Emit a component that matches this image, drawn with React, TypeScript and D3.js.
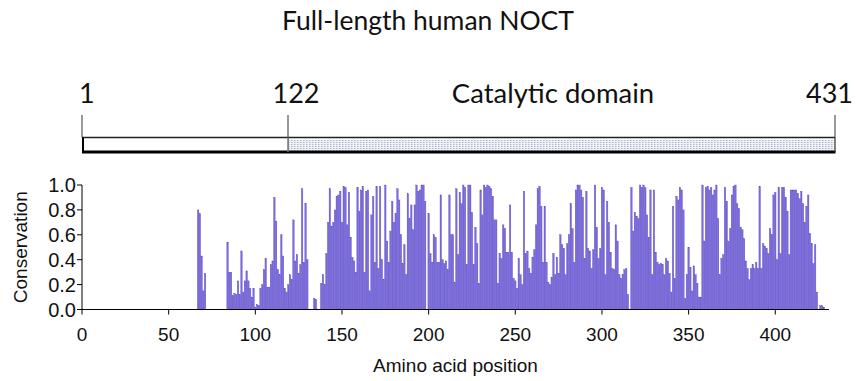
import React from 'react';
import * as d3 from 'd3';

const W = 856;
const H = 381;

const titleText = 'Full-length human NOCT';
const domainMarks = [1, 122, 431];
const domainLabel = 'Catalytic domain';
const xTicks = [0, 50, 100, 150, 200, 250, 300, 350, 400];
const yTicks = [0, 0.2, 0.4, 0.6, 0.8, 1.0];
const xTitle = 'Amino acid position';
const yTitle = 'Conservation';

// conservation score per amino acid position 1..431
const conservation: number[] = [
  0, 0, 0, 0, 0, 0, 0, 0, 0, 0,
  0, 0, 0, 0, 0, 0, 0, 0, 0, 0,
  0, 0, 0, 0, 0, 0, 0, 0, 0, 0,
  0, 0, 0, 0, 0, 0, 0, 0, 0, 0,
  0, 0, 0, 0, 0, 0, 0, 0, 0, 0,
  0, 0, 0, 0, 0, 0, 0, 0, 0, 0,
  0, 0, 0, 0, 0, 0, 0.80, 0.77, 0.43, 0.15,
  0.29, 0, 0, 0, 0, 0, 0, 0, 0, 0,
  0, 0, 0, 0.54, 0.30, 0.30, 0.11, 0.13, 0.12, 0.23,
  0.12, 0.47, 0.14, 0.23, 0.31, 0.23, 0.17, 0.10, 0.17, 0.02,
  0.04, 0.03, 0.17, 0.20, 0.32, 0.41, 0.18, 0.18, 0.36, 0.39,
  0.90, 0.71, 0.32, 0.28, 0.60, 0.43, 0.17, 0.14, 0.20, 0.28,
  0.24, 0.72, 0.39, 0.44, 0.29, 0.36, 0.97, 0.38, 0.85, 0.40,
  0, 0, 0, 0.09, 0.08, 0, 0, 0.21, 0.28, 0.20,
  0.45, 0.70, 0.97, 0.67, 0.70, 0.80, 0.91, 0.92, 0.95, 0.70,
  0.99, 0.98, 0.68, 0.94, 0.58, 0.42, 0.39, 0.30, 0.98, 0.79,
  0.96, 0.99, 0.30, 0.95, 0.96, 0.15, 0.76, 0.91, 0.38, 0.99,
  0.33, 0.99, 0.40, 0.24, 1.0, 0.55, 0.38, 0.63, 0.87, 0.70,
  0.77, 0.97, 0.88, 0.60, 0.37, 0.52, 0.28, 0.93, 0.73, 0.84,
  0.64, 0.84, 1.0, 0.95, 0.96, 1.0, 1.0, 0.87, 0, 0.77,
  0.45, 0.38, 0.60, 0.58, 0.38, 0.38, 0.92, 0.40, 0.37, 0.39,
  0.32, 0.92, 0.60, 0.60, 0.22, 0.97, 0.44, 0.94, 0.85, 1.0,
  0.98, 0.36, 1.0, 1.0, 0.78, 0.36, 0.66, 0.53, 0.21, 0.96,
  0.76, 1.0, 0.98, 1.0, 0.99, 0.97, 0.91, 0.72, 0.72, 0.21,
  0.45, 0.41, 0.68, 0.65, 0.46, 0.46, 0.84, 0.46, 0.25, 0.23,
  0.17, 0.41, 0.28, 0.20, 0.95, 0.45, 0.47, 0.33, 0.29, 0.42,
  0.48, 0.68, 0.97, 0.99, 0.83, 0.38, 0.83, 0.38, 0.22, 0.20,
  0.26, 0.45, 0.28, 0.42, 0.29, 0.60, 0.52, 0.49, 0.28, 0.53,
  0.60, 0.85, 0.65, 0.38, 0.96, 1.0, 1.0, 0.96, 0.90, 0.41,
  0.95, 0.49, 0.47, 0.33, 0.48, 1.0, 0.66, 0.41, 0.49, 0.98,
  0.96, 0.28, 0.87, 0.70, 0.46, 0.33, 0.32, 0.68, 0.55, 0.28,
  0.25, 0.28, 0.32, 0.33, 0.12, 0, 0.98, 0.63, 0.78, 0.75,
  0.73, 1.0, 0.98, 1.0, 0.98, 0.76, 0.58, 0.96, 0.28, 0.96,
  0.46, 0.38, 0.36, 0.37, 0.36, 0.28, 0.41, 0.39, 0.29, 0.14,
  0.83, 0.25, 0.91, 0.88, 0.98, 0.96, 0.80, 0.09, 0.28, 0.50,
  0.34, 0.15, 0.35, 0.28, 0.21, 0.10, 0.10, 1.0, 0.55, 0.98,
  0.99, 0.96, 0.98, 0.92, 0.96, 1.0, 0.73, 0.28, 0.41, 0.44,
  0.98, 0.87, 0.55, 0.65, 0.92, 0.99, 1.0, 0.85, 0.81, 0.66,
  0.64, 0.57, 0.39, 0.33, 0.24, 0.33, 0.36, 0.33, 0.38, 0.33,
  0.99, 0.33, 0.53, 0.51, 0.49, 0.45, 0.65, 0.60, 0.92, 0.94,
  0.40, 0.98, 0.45, 0.98, 0.98, 0.90, 0.79, 0.44, 0.96, 0.96,
  0.96, 0.96, 0.93, 0.89, 0.95, 0.85, 0.70, 0.83, 0.92, 0.61,
  0.53, 0.37, 0.52, 0.14, 0, 0.03, 0.03, 0.02, 0, 0,
  0,
];

const positions = conservation.map((_, i) => i + 1);

const calibri = 'Lato, "Open Sans", sans-serif';
const arial = '"Liberation Sans", Arial, sans-serif';

export default function App() {
  const x = d3.scaleLinear().domain([0, 431]).range([82, 829]);
  const y = d3.scaleLinear().domain([0, 1]).range([309.5, 185]);
  const dx = d3.scaleLinear().domain(domainMarks).range([82, 288, 835]);
  const step = x(1) - x(0);
  const barW = step * 0.86;

  const barTop = 137.5;
  const barBot = 152;

  return (
    <svg
      width={W}
      height={H}
      viewBox={`0 0 ${W} ${H}`}
      style={{ position: 'absolute', left: 0, top: 0, background: '#fff' }}
    >
      <defs>
        <pattern id="hatch" width="3" height="2" patternUnits="userSpaceOnUse">
          <rect width="3" height="2" fill="#eef1f6" />
          <rect width="1.5" height="1" fill="#aeb8c8" />
        </pattern>
      </defs>

      {/* Title */}
      <text x={428} y={30} textAnchor="middle" fontFamily={calibri} fontSize={26.5} fill="#111">
        {titleText}
      </text>

      {/* Domain labels */}
      <text x={dx(1) - 3} y={103} textAnchor="start" fontFamily={calibri} fontSize={27} fill="#111">
        {String(domainMarks[0])}
      </text>
      <text x={dx(122) + 8} y={103} textAnchor="middle" fontFamily={calibri} fontSize={27} fill="#111">
        {String(domainMarks[1])}
      </text>
      <text x={dx(431) + 18} y={103} textAnchor="end" fontFamily={calibri} fontSize={27} fill="#111">
        {String(domainMarks[2])}
      </text>
      <text x={553} y={103} textAnchor="middle" fontFamily={calibri} fontSize={27.5} fill="#111">
        {domainLabel}
      </text>

      {/* Domain bar */}
      {domainMarks.map((m) => (
        <line key={m} x1={dx(m)} x2={dx(m)} y1={115} y2={m === 122 ? barBot : barTop} stroke="#777" strokeWidth={1.5} />
      ))}
      <rect x={dx(1)} y={barTop} width={dx(122) - dx(1)} height={barBot - barTop} fill="#fff" />
      <rect x={dx(122) + 1} y={barTop + 2.5} width={dx(431) - dx(122) - 1.5} height={barBot - barTop - 4} fill="url(#hatch)" />
      <line x1={dx(1)} x2={dx(431)} y1={barTop} y2={barTop} stroke="#222" strokeWidth={1.5} />
      <line x1={dx(1)} x2={dx(431) + 0.5} y1={barBot} y2={barBot} stroke="#000" strokeWidth={3} />
      <line x1={dx(1) + 1} x2={dx(1) + 1} y1={barTop} y2={barBot} stroke="#000" strokeWidth={2} />
      <line x1={dx(431)} x2={dx(431)} y1={barTop} y2={barBot} stroke="#333" strokeWidth={1.2} />
      <line x1={dx(122)} x2={dx(122)} y1={barTop} y2={barBot} stroke="#777" strokeWidth={1.5} />

      {/* Bars */}
      <g>
        {positions.map((p, i) =>
          conservation[i] > 0 ? (
            <rect
              key={p}
              x={x(p) - barW / 2}
              y={y(conservation[i])}
              width={barW}
              height={y(0) - y(conservation[i])}
              fill="#7b6cdb"
              stroke="#5a49c6"
              strokeWidth={0.35}
            />
          ) : null
        )}
      </g>

      {/* Y axis */}
      <line x1={x(0)} x2={x(0)} y1={y(1)} y2={y(0)} stroke="#000" strokeWidth={1} />
      {yTicks.map((t) => (
        <g key={t}>
          <line x1={x(0) - 5} x2={x(0)} y1={y(t)} y2={y(t)} stroke="#000" strokeWidth={1} />
          <text x={x(0) - 6} y={y(t) + 7} textAnchor="end" fontFamily={arial} fontSize={20} fill="#111">
            {t.toFixed(1)}
          </text>
        </g>
      ))}
      <text
        transform={`translate(27, ${(y(0) + y(1)) / 2}) rotate(-90)`}
        textAnchor="middle"
        fontFamily={arial}
        fontSize={19}
        fill="#111"
      >
        {yTitle}
      </text>

      {/* X axis */}
      <line x1={x(0)} x2={x(431)} y1={y(0)} y2={y(0)} stroke="#000" strokeWidth={1.2} />
      {xTicks.map((t) => (
        <g key={t}>
          <line x1={x(t)} x2={x(t)} y1={y(0)} y2={y(0) + 5} stroke="#000" strokeWidth={1} />
          <text x={x(t)} y={341} textAnchor="middle" fontFamily={arial} fontSize={19} fill="#111">
            {String(t)}
          </text>
        </g>
      ))}
      <text x={(x(0) + x(431)) / 2} y={372} textAnchor="middle" fontFamily={arial} fontSize={19} fill="#111">
        {xTitle}
      </text>
    </svg>
  );
}
